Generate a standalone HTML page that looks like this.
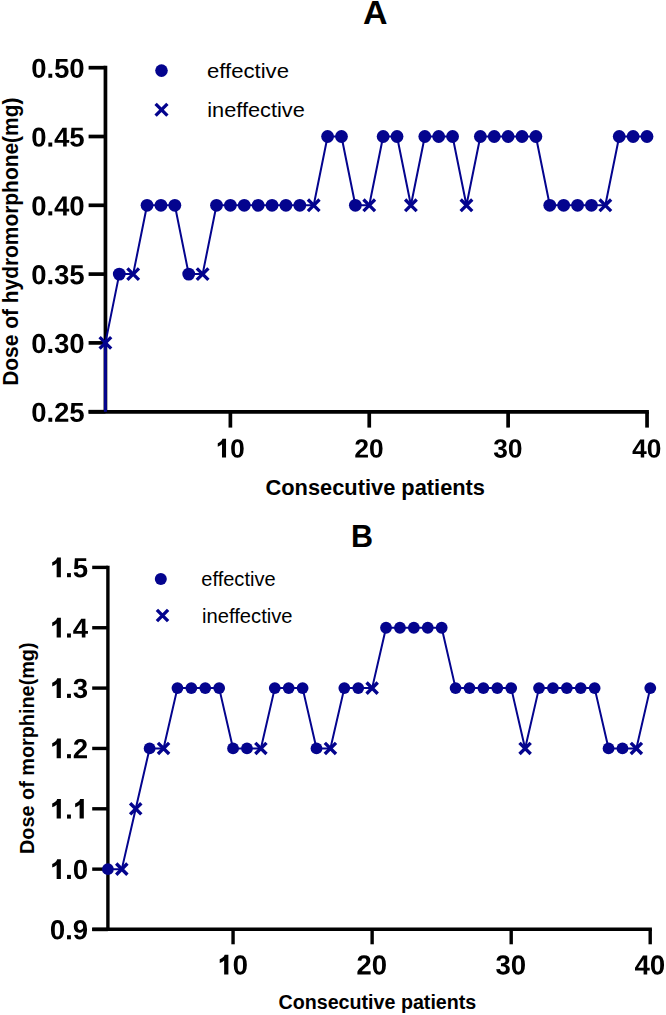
<!DOCTYPE html>
<html><head><meta charset="utf-8"><title>Dose charts</title>
<style>
html,body{margin:0;padding:0;background:#fff;}
svg{display:block;}
text{font-family:"Liberation Sans",sans-serif;fill:#000;}
</style></head>
<body>
<svg width="666" height="1015" viewBox="0 0 666 1015">
<rect width="666" height="1015" fill="#fff"/>
<defs><path id="gd" d="M139 0V305H428V0Z"/><path id="g0" d="M1055 705Q1055 348 932.5 164.0Q810 -20 565 -20Q81 -20 81 705Q81 958 134.0 1118.0Q187 1278 293.0 1354.0Q399 1430 573 1430Q823 1430 939.0 1249.0Q1055 1068 1055 705ZM773 705Q773 900 754.0 1008.0Q735 1116 693.0 1163.0Q651 1210 571 1210Q486 1210 442.5 1162.5Q399 1115 380.5 1007.5Q362 900 362 705Q362 512 381.5 403.5Q401 295 443.5 248.0Q486 201 567 201Q647 201 690.5 250.5Q734 300 753.5 409.0Q773 518 773 705Z"/><path id="g1" d="M820 0L505 0L505 1040Q380 930 175 850L175 1120Q285 1160 400 1250Q500 1330 545 1466L820 1466Z"/><path id="g2" d="M71 0V195Q126 316 227.5 431.0Q329 546 483 671Q631 791 690.5 869.0Q750 947 750 1022Q750 1206 565 1206Q475 1206 427.5 1157.5Q380 1109 366 1012L83 1028Q107 1224 229.5 1327.0Q352 1430 563 1430Q791 1430 913.0 1326.0Q1035 1222 1035 1034Q1035 935 996.0 855.0Q957 775 896.0 707.5Q835 640 760.5 581.0Q686 522 616.0 466.0Q546 410 488.5 353.0Q431 296 403 231H1057V0Z"/><path id="g3" d="M1065 391Q1065 193 935.0 85.0Q805 -23 565 -23Q338 -23 204.0 81.5Q70 186 47 383L333 408Q360 205 564 205Q665 205 721.0 255.0Q777 305 777 408Q777 502 709.0 552.0Q641 602 507 602H409V829H501Q622 829 683.0 878.5Q744 928 744 1020Q744 1107 695.5 1156.5Q647 1206 554 1206Q467 1206 413.5 1158.0Q360 1110 352 1022L71 1042Q93 1224 222.0 1327.0Q351 1430 559 1430Q780 1430 904.5 1330.5Q1029 1231 1029 1055Q1029 923 951.5 838.0Q874 753 728 725V721Q890 702 977.5 614.5Q1065 527 1065 391Z"/><path id="g4" d="M940 287V0H672V287H31V498L626 1409H940V496H1128V287ZM672 957Q672 1011 675.5 1074.0Q679 1137 681 1155Q655 1099 587 993L260 496H672Z"/><path id="g5" d="M1082 469Q1082 245 942.5 112.5Q803 -20 560 -20Q348 -20 220.5 75.5Q93 171 63 352L344 375Q366 285 422.0 244.0Q478 203 563 203Q668 203 730.5 270.0Q793 337 793 463Q793 574 734.0 640.5Q675 707 569 707Q452 707 378 616H104L153 1409H1000V1200H408L385 844Q487 934 640 934Q841 934 961.5 809.0Q1082 684 1082 469Z"/><path id="g9" d="M1063 727Q1063 352 926.0 166.0Q789 -20 537 -20Q351 -20 245.5 59.5Q140 139 96 311L360 348Q399 201 540 201Q658 201 721.5 314.0Q785 427 787 649Q749 574 662.5 531.5Q576 489 476 489Q290 489 180.5 615.5Q71 742 71 958Q71 1180 199.5 1305.0Q328 1430 563 1430Q816 1430 939.5 1254.5Q1063 1079 1063 727ZM766 924Q766 1055 708.5 1132.5Q651 1210 556 1210Q463 1210 409.5 1142.5Q356 1075 356 956Q356 839 409.0 768.5Q462 698 557 698Q647 698 706.5 759.5Q766 821 766 924Z"/></defs>
<path d="M105.45 65.85V411.80" stroke="#000" stroke-width="3.7" fill="none"/>
<path d="M88.60 411.80H648.90" stroke="#000" stroke-width="3.7" fill="none"/>
<path d="M88.60 67.70H105.45" stroke="#000" stroke-width="3.7" fill="none"/>
<path d="M88.60 136.50H105.45" stroke="#000" stroke-width="3.7" fill="none"/>
<path d="M88.60 205.30H105.45" stroke="#000" stroke-width="3.7" fill="none"/>
<path d="M88.60 274.10H105.45" stroke="#000" stroke-width="3.7" fill="none"/>
<path d="M88.60 342.90H105.45" stroke="#000" stroke-width="3.7" fill="none"/>
<path d="M88.60 411.70H105.45" stroke="#000" stroke-width="3.7" fill="none"/>
<path d="M230.38 411.80V427.60" stroke="#000" stroke-width="3.7" fill="none"/>
<path d="M369.25 411.80V427.60" stroke="#000" stroke-width="3.7" fill="none"/>
<path d="M508.12 411.80V427.60" stroke="#000" stroke-width="3.7" fill="none"/>
<path d="M647.05 411.80V427.60" stroke="#000" stroke-width="3.7" fill="none"/>
<g fill="#000" transform="translate(31.27 77.80) scale(0.013379 -0.013379)"><use href="#g0"/><use href="#gd" x="1139"/><use href="#g5" x="1708"/><use href="#g0" x="2847"/></g>
<g fill="#000" transform="translate(31.27 146.60) scale(0.013379 -0.013379)"><use href="#g0"/><use href="#gd" x="1139"/><use href="#g4" x="1708"/><use href="#g5" x="2847"/></g>
<g fill="#000" transform="translate(31.27 215.40) scale(0.013379 -0.013379)"><use href="#g0"/><use href="#gd" x="1139"/><use href="#g4" x="1708"/><use href="#g0" x="2847"/></g>
<g fill="#000" transform="translate(31.27 284.20) scale(0.013379 -0.013379)"><use href="#g0"/><use href="#gd" x="1139"/><use href="#g3" x="1708"/><use href="#g5" x="2847"/></g>
<g fill="#000" transform="translate(31.27 353.00) scale(0.013379 -0.013379)"><use href="#g0"/><use href="#gd" x="1139"/><use href="#g3" x="1708"/><use href="#g0" x="2847"/></g>
<g fill="#000" transform="translate(31.27 421.80) scale(0.013379 -0.013379)"><use href="#g0"/><use href="#gd" x="1139"/><use href="#g2" x="1708"/><use href="#g5" x="2847"/></g>
<g fill="#000" transform="translate(215.51 457.60) scale(0.012842 -0.012842)"><use href="#g1"/><use href="#g0" x="1139"/></g>
<g fill="#000" transform="translate(354.38 457.60) scale(0.012842 -0.012842)"><use href="#g2"/><use href="#g0" x="1139"/></g>
<g fill="#000" transform="translate(493.25 457.60) scale(0.012842 -0.012842)"><use href="#g3"/><use href="#g0" x="1139"/></g>
<g fill="#000" transform="translate(632.12 457.60) scale(0.012842 -0.012842)"><use href="#g4"/><use href="#g0" x="1139"/></g>
<text x="265.50" y="495.30" font-size="22.0" font-weight="bold" textLength="219.5" lengthAdjust="spacingAndGlyphs">Consecutive patients</text>
<text transform="translate(17.90 385.80) rotate(-90)" x="0" y="0" font-size="21.4" font-weight="bold" textLength="288.2" lengthAdjust="spacingAndGlyphs">Dose of hydromorphone(mg)</text>
<text x="363.00" y="24.00" font-size="34" font-weight="bold">A</text>
<g fill="#04048E" stroke="#04048E">
<path d="M105.40 342.90V411.80" stroke-width="3" fill="none"/>
<polyline points="105.40,342.90 119.29,274.10 133.17,274.10 147.06,205.30 160.95,205.30 174.84,205.30 188.72,274.10 202.61,274.10 216.50,205.30 230.38,205.30 244.27,205.30 258.16,205.30 272.04,205.30 285.93,205.30 299.82,205.30 313.71,205.30 327.59,136.50 341.48,136.50 355.37,205.30 369.25,205.30 383.14,136.50 397.03,136.50 410.91,205.30 424.80,136.50 438.69,136.50 452.58,136.50 466.46,205.30 480.35,136.50 494.24,136.50 508.12,136.50 522.01,136.50 535.90,136.50 549.78,205.30 563.67,205.30 577.56,205.30 591.45,205.30 605.33,205.30 619.22,136.50 633.11,136.50 646.99,136.50" fill="none" stroke-width="2.0" stroke-linejoin="round"/>
<path d="M99.60 337.10L111.20 348.70M99.60 348.70L111.20 337.10" stroke-width="3.3" fill="none"/>
<circle cx="119.29" cy="274.10" r="6.4" stroke="none"/>
<path d="M127.37 268.30L138.97 279.90M127.37 279.90L138.97 268.30" stroke-width="3.3" fill="none"/>
<circle cx="147.06" cy="205.30" r="6.4" stroke="none"/>
<circle cx="160.95" cy="205.30" r="6.4" stroke="none"/>
<circle cx="174.84" cy="205.30" r="6.4" stroke="none"/>
<circle cx="188.72" cy="274.10" r="6.4" stroke="none"/>
<path d="M196.81 268.30L208.41 279.90M196.81 279.90L208.41 268.30" stroke-width="3.3" fill="none"/>
<circle cx="216.50" cy="205.30" r="6.4" stroke="none"/>
<circle cx="230.38" cy="205.30" r="6.4" stroke="none"/>
<circle cx="244.27" cy="205.30" r="6.4" stroke="none"/>
<circle cx="258.16" cy="205.30" r="6.4" stroke="none"/>
<circle cx="272.04" cy="205.30" r="6.4" stroke="none"/>
<circle cx="285.93" cy="205.30" r="6.4" stroke="none"/>
<circle cx="299.82" cy="205.30" r="6.4" stroke="none"/>
<path d="M307.91 199.50L319.51 211.10M307.91 211.10L319.51 199.50" stroke-width="3.3" fill="none"/>
<circle cx="327.59" cy="136.50" r="6.4" stroke="none"/>
<circle cx="341.48" cy="136.50" r="6.4" stroke="none"/>
<circle cx="355.37" cy="205.30" r="6.4" stroke="none"/>
<path d="M363.45 199.50L375.05 211.10M363.45 211.10L375.05 199.50" stroke-width="3.3" fill="none"/>
<circle cx="383.14" cy="136.50" r="6.4" stroke="none"/>
<circle cx="397.03" cy="136.50" r="6.4" stroke="none"/>
<path d="M405.11 199.50L416.71 211.10M405.11 211.10L416.71 199.50" stroke-width="3.3" fill="none"/>
<circle cx="424.80" cy="136.50" r="6.4" stroke="none"/>
<circle cx="438.69" cy="136.50" r="6.4" stroke="none"/>
<circle cx="452.58" cy="136.50" r="6.4" stroke="none"/>
<path d="M460.66 199.50L472.26 211.10M460.66 211.10L472.26 199.50" stroke-width="3.3" fill="none"/>
<circle cx="480.35" cy="136.50" r="6.4" stroke="none"/>
<circle cx="494.24" cy="136.50" r="6.4" stroke="none"/>
<circle cx="508.12" cy="136.50" r="6.4" stroke="none"/>
<circle cx="522.01" cy="136.50" r="6.4" stroke="none"/>
<circle cx="535.90" cy="136.50" r="6.4" stroke="none"/>
<circle cx="549.78" cy="205.30" r="6.4" stroke="none"/>
<circle cx="563.67" cy="205.30" r="6.4" stroke="none"/>
<circle cx="577.56" cy="205.30" r="6.4" stroke="none"/>
<circle cx="591.45" cy="205.30" r="6.4" stroke="none"/>
<path d="M599.53 199.50L611.13 211.10M599.53 211.10L611.13 199.50" stroke-width="3.3" fill="none"/>
<circle cx="619.22" cy="136.50" r="6.4" stroke="none"/>
<circle cx="633.11" cy="136.50" r="6.4" stroke="none"/>
<circle cx="646.99" cy="136.50" r="6.4" stroke="none"/>
<circle cx="161.50" cy="70.60" r="6.3" stroke="none"/>
<path d="M155.60 103.90L167.40 115.70M155.60 115.70L167.40 103.90" stroke-width="3.3" fill="none"/>
</g>
<text x="207.00" y="78.10" font-size="20.5" textLength="82.0" lengthAdjust="spacingAndGlyphs">effective</text>
<text x="207.20" y="116.90" font-size="20.5" textLength="97.6" lengthAdjust="spacingAndGlyphs">ineffective</text>
<path d="M107.90 565.70V929.20" stroke="#000" stroke-width="3.4" fill="none"/>
<path d="M92.20 929.20H651.90" stroke="#000" stroke-width="3.4" fill="none"/>
<path d="M92.20 567.40H107.90" stroke="#000" stroke-width="3.4" fill="none"/>
<path d="M92.20 627.75H107.90" stroke="#000" stroke-width="3.4" fill="none"/>
<path d="M92.20 688.10H107.90" stroke="#000" stroke-width="3.4" fill="none"/>
<path d="M92.20 748.45H107.90" stroke="#000" stroke-width="3.4" fill="none"/>
<path d="M92.20 808.80H107.90" stroke="#000" stroke-width="3.4" fill="none"/>
<path d="M92.20 869.15H107.90" stroke="#000" stroke-width="3.4" fill="none"/>
<path d="M92.20 929.50H107.90" stroke="#000" stroke-width="3.4" fill="none"/>
<path d="M233.06 929.20V944.30" stroke="#000" stroke-width="3.4" fill="none"/>
<path d="M372.13 929.20V944.30" stroke="#000" stroke-width="3.4" fill="none"/>
<path d="M511.20 929.20V944.30" stroke="#000" stroke-width="3.4" fill="none"/>
<path d="M650.20 929.20V944.30" stroke="#000" stroke-width="3.4" fill="none"/>
<g fill="#000" transform="translate(49.87 577.20) scale(0.013428 -0.013428)"><use href="#g1"/><use href="#gd" x="1139"/><use href="#g5" x="1708"/></g>
<g fill="#000" transform="translate(49.87 637.55) scale(0.013428 -0.013428)"><use href="#g1"/><use href="#gd" x="1139"/><use href="#g4" x="1708"/></g>
<g fill="#000" transform="translate(49.87 697.90) scale(0.013428 -0.013428)"><use href="#g1"/><use href="#gd" x="1139"/><use href="#g3" x="1708"/></g>
<g fill="#000" transform="translate(49.87 758.25) scale(0.013428 -0.013428)"><use href="#g1"/><use href="#gd" x="1139"/><use href="#g2" x="1708"/></g>
<g fill="#000" transform="translate(49.87 818.60) scale(0.013428 -0.013428)"><use href="#g1"/><use href="#gd" x="1139"/><use href="#g1" x="1708"/></g>
<g fill="#000" transform="translate(49.87 878.95) scale(0.013428 -0.013428)"><use href="#g1"/><use href="#gd" x="1139"/><use href="#g0" x="1708"/></g>
<g fill="#000" transform="translate(49.87 939.30) scale(0.013428 -0.013428)"><use href="#g0"/><use href="#gd" x="1139"/><use href="#g9" x="1708"/></g>
<g fill="#000" transform="translate(217.37 974.40) scale(0.013428 -0.013428)"><use href="#g1"/><use href="#g0" x="1139"/></g>
<g fill="#000" transform="translate(356.44 974.40) scale(0.013428 -0.013428)"><use href="#g2"/><use href="#g0" x="1139"/></g>
<g fill="#000" transform="translate(495.51 974.40) scale(0.013428 -0.013428)"><use href="#g3"/><use href="#g0" x="1139"/></g>
<g fill="#000" transform="translate(634.58 974.40) scale(0.013428 -0.013428)"><use href="#g4"/><use href="#g0" x="1139"/></g>
<text x="278.50" y="1009.00" font-size="19.5" font-weight="bold" textLength="197.8" lengthAdjust="spacingAndGlyphs">Consecutive patients</text>
<text transform="translate(33.90 854.00) rotate(-90)" x="0" y="0" font-size="19.5" font-weight="bold" textLength="211.6" lengthAdjust="spacingAndGlyphs">Dose of morphine(mg)</text>
<text x="351.00" y="546.50" font-size="30.5" font-weight="bold">B</text>
<g fill="#04048E" stroke="#04048E">
<polyline points="107.90,869.15 121.81,869.15 135.71,808.80 149.62,748.45 163.53,748.45 177.44,688.10 191.34,688.10 205.25,688.10 219.16,688.10 233.06,748.45 246.97,748.45 260.88,748.45 274.78,688.10 288.69,688.10 302.60,688.10 316.50,748.45 330.41,748.45 344.32,688.10 358.23,688.10 372.13,688.10 386.04,627.75 399.95,627.75 413.85,627.75 427.76,627.75 441.67,627.75 455.58,688.10 469.48,688.10 483.39,688.10 497.30,688.10 511.20,688.10 525.11,748.45 539.02,688.10 552.92,688.10 566.83,688.10 580.74,688.10 594.64,688.10 608.55,748.45 622.46,748.45 636.37,748.45 650.27,688.10" fill="none" stroke-width="2.0" stroke-linejoin="round"/>
<circle cx="107.90" cy="869.15" r="5.9" stroke="none"/>
<path d="M116.21 863.55L127.41 874.75M116.21 874.75L127.41 863.55" stroke-width="3.4" fill="none"/>
<path d="M130.11 803.20L141.31 814.40M130.11 814.40L141.31 803.20" stroke-width="3.4" fill="none"/>
<circle cx="149.62" cy="748.45" r="5.9" stroke="none"/>
<path d="M157.93 742.85L169.13 754.05M157.93 754.05L169.13 742.85" stroke-width="3.4" fill="none"/>
<circle cx="177.44" cy="688.10" r="5.9" stroke="none"/>
<circle cx="191.34" cy="688.10" r="5.9" stroke="none"/>
<circle cx="205.25" cy="688.10" r="5.9" stroke="none"/>
<circle cx="219.16" cy="688.10" r="5.9" stroke="none"/>
<circle cx="233.06" cy="748.45" r="5.9" stroke="none"/>
<circle cx="246.97" cy="748.45" r="5.9" stroke="none"/>
<path d="M255.28 742.85L266.48 754.05M255.28 754.05L266.48 742.85" stroke-width="3.4" fill="none"/>
<circle cx="274.78" cy="688.10" r="5.9" stroke="none"/>
<circle cx="288.69" cy="688.10" r="5.9" stroke="none"/>
<circle cx="302.60" cy="688.10" r="5.9" stroke="none"/>
<circle cx="316.50" cy="748.45" r="5.9" stroke="none"/>
<path d="M324.81 742.85L336.01 754.05M324.81 754.05L336.01 742.85" stroke-width="3.4" fill="none"/>
<circle cx="344.32" cy="688.10" r="5.9" stroke="none"/>
<circle cx="358.23" cy="688.10" r="5.9" stroke="none"/>
<path d="M366.53 682.50L377.73 693.70M366.53 693.70L377.73 682.50" stroke-width="3.4" fill="none"/>
<circle cx="386.04" cy="627.75" r="5.9" stroke="none"/>
<circle cx="399.95" cy="627.75" r="5.9" stroke="none"/>
<circle cx="413.85" cy="627.75" r="5.9" stroke="none"/>
<circle cx="427.76" cy="627.75" r="5.9" stroke="none"/>
<circle cx="441.67" cy="627.75" r="5.9" stroke="none"/>
<circle cx="455.58" cy="688.10" r="5.9" stroke="none"/>
<circle cx="469.48" cy="688.10" r="5.9" stroke="none"/>
<circle cx="483.39" cy="688.10" r="5.9" stroke="none"/>
<circle cx="497.30" cy="688.10" r="5.9" stroke="none"/>
<circle cx="511.20" cy="688.10" r="5.9" stroke="none"/>
<path d="M519.51 742.85L530.71 754.05M519.51 754.05L530.71 742.85" stroke-width="3.4" fill="none"/>
<circle cx="539.02" cy="688.10" r="5.9" stroke="none"/>
<circle cx="552.92" cy="688.10" r="5.9" stroke="none"/>
<circle cx="566.83" cy="688.10" r="5.9" stroke="none"/>
<circle cx="580.74" cy="688.10" r="5.9" stroke="none"/>
<circle cx="594.64" cy="688.10" r="5.9" stroke="none"/>
<circle cx="608.55" cy="748.45" r="5.9" stroke="none"/>
<circle cx="622.46" cy="748.45" r="5.9" stroke="none"/>
<path d="M630.77 742.85L641.97 754.05M630.77 754.05L641.97 742.85" stroke-width="3.4" fill="none"/>
<circle cx="650.27" cy="688.10" r="5.9" stroke="none"/>
<circle cx="160.80" cy="578.90" r="6.0" stroke="none"/>
<path d="M156.90 609.90L168.10 621.10M156.90 621.10L168.10 609.90" stroke-width="3.4" fill="none"/>
</g>
<text x="201.30" y="586.00" font-size="20.3" textLength="74.3" lengthAdjust="spacingAndGlyphs">effective</text>
<text x="202.00" y="622.70" font-size="20.3" textLength="90.6" lengthAdjust="spacingAndGlyphs">ineffective</text>
</svg>
</body></html>
